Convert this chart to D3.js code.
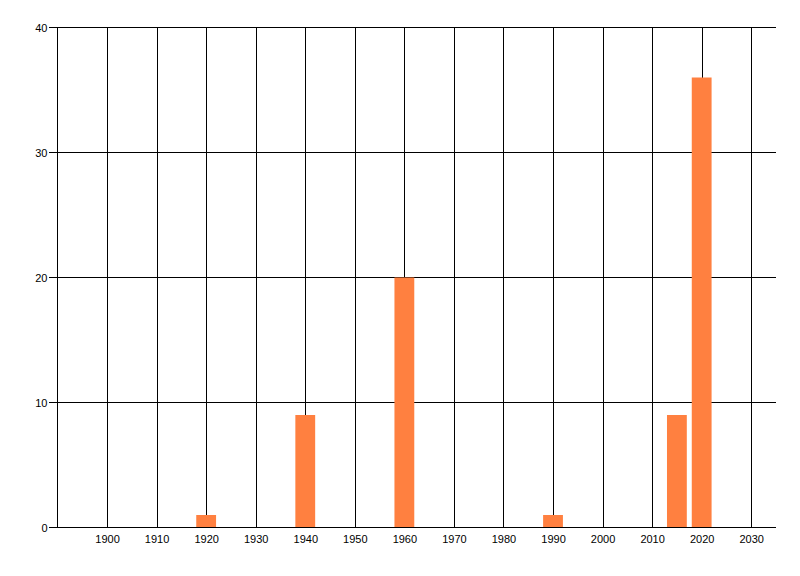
<!DOCTYPE html>
<html><head><meta charset="utf-8">
<script src="https://cdn.jsdelivr.net/npm/d3@7"></script>
<style>body{margin:0;background:#fff}svg{display:block}text{font-family:"Liberation Sans",Arial,sans-serif;font-size:11px;fill:#000}</style>
</head><body><svg id="c" width="800" height="576"></svg>
<script>
const years = [1920, 1940, 1960, 1990, 2015, 2020];
const values = [1, 9, 20, 1, 9, 36];
const xTicks = [1900,1910,1920,1930,1940,1950,1960,1970,1980,1990,2000,2010,2020,2030];
const yTicks = [0,10,20,30,40];

(function(){
const svg = d3.select("#c");
const mL = 57.5, mR = 776, mT = 27.5, mB = 527.5;
const x = d3.scaleLinear().domain([1890, 2035]).range([mL, mR]);
const y = d3.scaleLinear().domain([0, 40]).range([mB, mT]);

// vertical grid
svg.append("g").selectAll("line").data(xTicks).join("line")
  .attr("x1", d => Math.round(x(d)) + 0.5).attr("x2", d => Math.round(x(d)) + 0.5)
  .attr("y1", mT).attr("y2", mB).attr("stroke", "#000");
// horizontal grid
svg.append("g").selectAll("line").data(yTicks).join("line")
  .attr("x1", 49).attr("x2", mR)
  .attr("y1", d => Math.round(y(d) - 0.5) + 0.5).attr("y2", d => Math.round(y(d) - 0.5) + 0.5)
  .attr("stroke", "#000");
// y axis line
svg.append("line").attr("x1", mL).attr("x2", mL).attr("y1", mT).attr("y2", mB).attr("stroke", "#000");

// bars
const bw = x(1922) - x(1918);
svg.append("g").selectAll("rect").data(years).join("rect")
  .attr("x", d => x(d) - bw / 2)
  .attr("width", bw)
  .attr("y", (d, i) => y(values[i]))
  .attr("height", (d, i) => y(0) - y(values[i]))
  .attr("fill", "#FF8040");

// x axis line on top
svg.append("line").attr("x1", mL).attr("x2", mR).attr("y1", mB).attr("y2", mB).attr("stroke", "#000");

// labels via d3 axes
const gx = svg.append("g").attr("transform", `translate(0,${mB})`)
  .call(d3.axisBottom(x).tickValues(xTicks).tickFormat(d3.format("d")).tickSize(0).tickPadding(8));
gx.select(".domain").remove();
gx.selectAll("text").attr("font-family", null).attr("font-size", null).attr("fill", "#000");
const gy = svg.append("g").attr("transform", `translate(${mL},0)`)
  .call(d3.axisLeft(y).tickValues(yTicks).tickSize(0).tickPadding(10));
gy.select(".domain").remove();
gy.selectAll("text").attr("font-family", null).attr("font-size", null).attr("fill", "#000");
})();
</script></body></html>
